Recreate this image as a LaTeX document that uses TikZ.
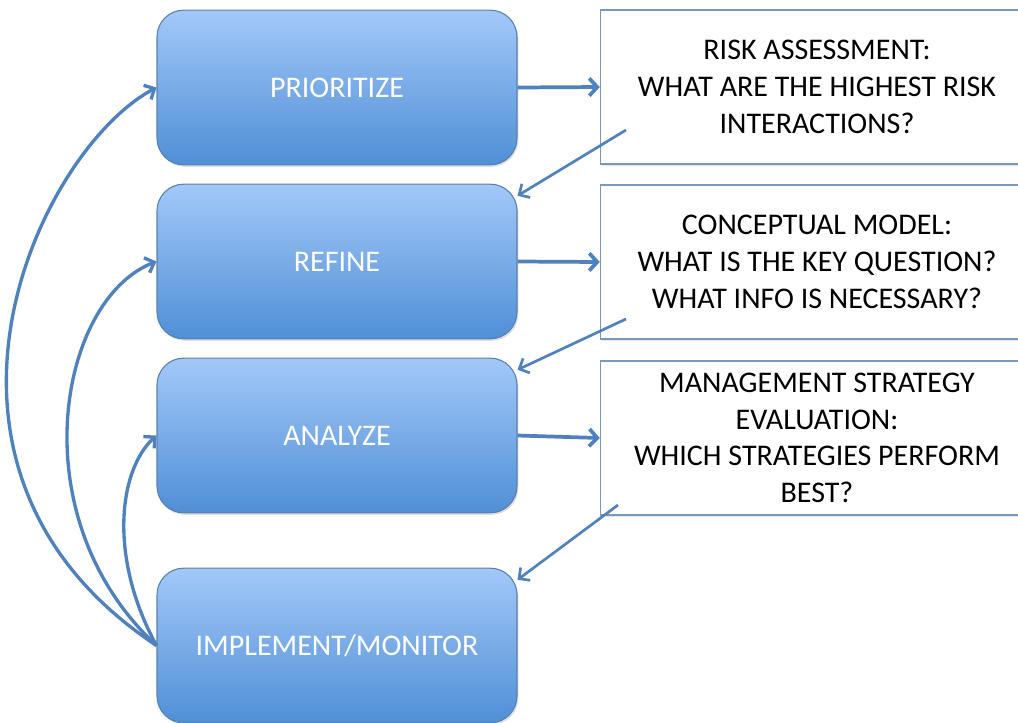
\documentclass[tikz,border=0pt]{standalone}
\usepackage{fontspec}
\setmainfont{Carlito}
\usetikzlibrary{arrows.meta,shadows}
\definecolor{linkblue}{RGB}{79,129,189}
\definecolor{topblue}{RGB}{163,200,248}
\definecolor{botblue}{RGB}{80,143,214}
\definecolor{edgeblue}{RGB}{88,128,178}
\definecolor{qedge}{RGB}{120,150,190}
\tikzset{
  stagebox/.style={draw=edgeblue, line width=0.8pt, rounded corners=20pt,
    top color=topblue, bottom color=botblue, text=white,
    minimum width=270pt, minimum height=116pt,
    font=\fontsize{22.5}{27.5}\selectfont,
    drop shadow={opacity=0.25, shadow xshift=1pt, shadow yshift=-1.5pt}},
  qbox/.style={draw=qedge, line width=0.8pt, fill=white, align=center,
    minimum width=325pt, minimum height=115.5pt,
    font=\fontsize{22.5}{27.5}\selectfont,
    drop shadow={opacity=0.2, shadow xshift=1pt, shadow yshift=-1.5pt}},
  link/.style={draw=linkblue, line width=2.8pt, -{Straight Barb[length=6pt,width=13pt]}},
  backlink/.style={draw=linkblue, line width=2pt, -{Straight Barb[length=6pt,width=12pt]}},
  loop/.style={draw=linkblue, line width=2.5pt, -{Straight Barb[length=6pt,width=12pt]}}
}
\begin{document}
\begin{tikzpicture}[x=0.75pt,y=0.75pt,yscale=-1,xscale=1]

\clip (0,0) rectangle (1018,722) ;

\node[stagebox] (prio) at (337,87.5) {PRIORITIZE};

\node[stagebox] (refine) at (337,261.5) {REFINE};

\node[stagebox] (analyze) at (337,435.5) {ANALYZE};

\node[stagebox] (impl) at (337,645.5) {IMPLEMENT/MONITOR};

\node[qbox] (risk) at (817,87) {RISK ASSESSMENT:\\WHAT ARE THE HIGHEST RISK\\INTERACTIONS?};

\node[qbox] (model) at (817,262) {CONCEPTUAL MODEL:\\WHAT IS THE KEY QUESTION?\\WHAT INFO IS NECESSARY?};

\node[qbox] (mse) at (817,438) {MANAGEMENT STRATEGY\\EVALUATION:\\WHICH STRATEGIES PERFORM\\BEST?};

\coordinate (r1) at (626,130) ;

\coordinate (r2) at (626,319) ;

\coordinate (r3) at (618,505) ;



\draw[link] (prio.east) -- (risk.west) ;

\draw[link] (refine.east) -- (model.west) ;

\draw[link] (analyze.east) -- (mse.west) ;

\draw[backlink] (r1) -- (refine.20) ;

\draw[backlink] (r2) -- (analyze.20) ;

\draw[backlink] (r3) -- (impl.20) ;

\draw[loop] (impl.west) .. controls +(-268,-178) and +(-118,63) .. (prio.west) ;

\draw[loop] (impl.west) .. controls +(-138,-128) and +(-98,38) .. (refine.west) ;

\draw[loop] (impl.west) .. controls +(-48,-88) and +(-38,35) .. (analyze.west) ;

\end{tikzpicture}
\end{document}
